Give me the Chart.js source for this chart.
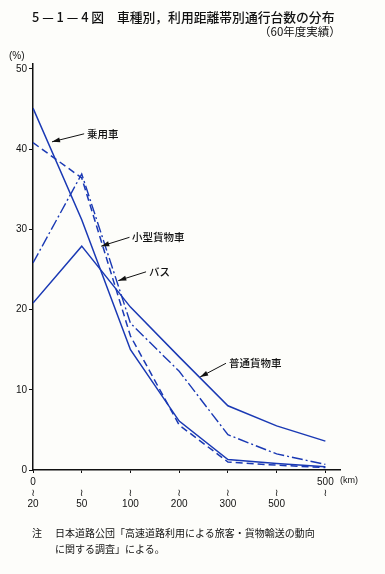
<!DOCTYPE html>
<html>
<head>
<meta charset="utf-8">
<script src="https://cdn.jsdelivr.net/npm/chart.js@4.4.1/dist/chart.umd.min.js"></script>
<style>
  body { margin: 0; background: #fdfdfa; width: 385px; height: 574px; position: relative; overflow: hidden;
         font-family: "Noto Sans CJK JP", "Noto Sans", sans-serif; color: #111; }
  #wrap { position: absolute; left: 0; top: 0; width: 385px; height: 574px; }
  .t { position: absolute; white-space: nowrap; }
</style>
</head>
<body>
<div id="wrap"><canvas id="lineChart" width="385" height="574"></canvas></div>
<div class="t" style="left:32px; top:7px; font-size:12.8px; font-weight:500;">5 — 1 — 4 図　車種別，利用距離帯別通行台数の分布</div>
<div class="t" style="left:259px; top:23px; font-size:11.5px;">（60年度実績）</div>
<div class="t" style="left:9px; top:50px; font-size:10px; font-family:'Liberation Sans',sans-serif;">(%)</div>
<div class="t" style="left:340px; top:475px; font-size:9px; font-family:'Liberation Sans',sans-serif;">(km)</div>
<div class="t" style="left:32px; top:525px; font-size:10px;">注</div>
<div class="t" style="left:55px; top:525px; font-size:10px;">日本道路公団「高速道路利用による旅客・貨物輸送の動向</div>
<div class="t" style="left:55px; top:541px; font-size:10px;">に関する調査」による。</div>
<script>
// distance bands (km)
const xTickLabels = [
    ["0", "≀", "20"],
    ["", "≀", "50"],
    ["", "≀", "100"],
    ["", "≀", "200"],
    ["", "≀", "300"],
    ["", "≀", "500"],
    ["500", "≀", ""]
];
const yTicks = [0, 10, 20, 30, 40, 50];

// share of traffic (%)
const jouyousha = [45.1, 31.2, 15.0, 6.1, 1.3, 0.8, 0.4];      // 乗用車
const kogataKamotsu = [40.8, 36.4, 16.7, 5.6, 1.0, 0.6, 0.3];  // 小型貨物車
const bus = [25.8, 36.9, 18.3, 12.3, 4.4, 2.0, 0.7];           // バス
const futsuKamotsu = [20.8, 27.9, 20.3, 14.1, 8.0, 5.5, 3.6];  // 普通貨物車

const blue = "#1a39b4";

function toPoints(arr) {
    return arr.map((v, i) => ({ x: i, y: v }));
}

// labels with arrows, given in data units
const notes = [
    { text: "乗用車", tip: [0.39, 40.9], tail: [1.05, 41.9], at: [1.09, 41.9] },
    { text: "小型貨物車", tip: [1.40, 27.9], tail: [1.98, 29.0], at: [2.01, 29.0] },
    { text: "バス", tip: [1.75, 23.6], tail: [2.32, 24.7], at: [2.36, 24.7] },
    { text: "普通貨物車", tip: [3.43, 11.6], tail: [3.96, 13.3], at: [4.0, 13.3] }
];

const notePlugin = {
    id: "notes",
    afterDatasetsDraw(chart) {
        const ctx = chart.ctx;
        const xs = chart.scales.x, ys = chart.scales.y;
        ctx.save();
        ctx.strokeStyle = "#111";
        ctx.fillStyle = "#111";
        ctx.lineWidth = 1;
        notes.forEach(n => {
            const tx = xs.getPixelForValue(n.tip[0]), ty = ys.getPixelForValue(n.tip[1]);
            const sx = xs.getPixelForValue(n.tail[0]), sy = ys.getPixelForValue(n.tail[1]);
            ctx.beginPath();
            ctx.moveTo(sx, sy);
            ctx.lineTo(tx, ty);
            ctx.stroke();
            const a = Math.atan2(ty - sy, tx - sx);
            ctx.beginPath();
            ctx.moveTo(tx, ty);
            ctx.lineTo(tx - 8 * Math.cos(a) + 2.5 * Math.sin(a), ty - 8 * Math.sin(a) - 2.5 * Math.cos(a));
            ctx.lineTo(tx - 8 * Math.cos(a) - 2.5 * Math.sin(a), ty - 8 * Math.sin(a) + 2.5 * Math.cos(a));
            ctx.closePath();
            ctx.fill();
            ctx.font = "500 10.5px 'Noto Sans CJK JP'";
            ctx.textBaseline = "middle";
            ctx.fillText(n.text, xs.getPixelForValue(n.at[0]) + 1, ys.getPixelForValue(n.at[1]));
        });
        ctx.restore();
    }
};

const ctxLine = document.getElementById("lineChart").getContext("2d");

new Chart(ctxLine, {
    type: "line",
    data: {
        datasets: [
            { label: "乗用車", data: toPoints(jouyousha), borderColor: blue, borderWidth: 1.5 },
            { label: "小型貨物車", data: toPoints(kogataKamotsu), borderColor: blue, borderWidth: 1.5, borderDash: [7, 4] },
            { label: "バス", data: toPoints(bus), borderColor: blue, borderWidth: 1.4, borderDash: [11, 3, 2, 3] },
            { label: "普通貨物車", data: toPoints(futsuKamotsu), borderColor: blue, borderWidth: 1.5 }
        ]
    },
    options: {
        responsive: false,
        animation: false,
        layout: { padding: { top: 64, left: 0, right: 45, bottom: 64 } },
        elements: { point: { radius: 0 }, line: { tension: 0, fill: false } },
        plugins: { legend: { display: false }, tooltip: { enabled: false } },
        scales: {
            x: {
                type: "linear",
                min: 0,
                max: 6.3,
                afterBuildTicks: s => { s.ticks = xTickLabels.map((l, i) => ({ value: i })); },
                afterFit: s => { s.height = 40; },
                border: { display: true, color: "#111", width: 1.5 },
                grid: { display: true, drawOnChartArea: false, drawTicks: true, tickLength: 3, color: "#111" },
                ticks: {
                    maxRotation: 0,
                    autoSkip: false,
                    padding: 4,
                    color: "#111",
                    font: { family: "'Liberation Sans', 'DejaVu Sans'", size: 10, lineHeight: 1.1 },
                    callback: (v, i) => xTickLabels[i]
                }
            },
            y: {
                min: 0,
                max: 50.6,
                afterBuildTicks: s => { s.ticks = yTicks.map(v => ({ value: v })); },
                afterFit: s => { s.width = 33; },
                border: { display: true, color: "#111", width: 1.5 },
                grid: { display: true, drawOnChartArea: false, drawTicks: true, tickLength: 4, color: "#111" },
                ticks: {
                    padding: 2,
                    color: "#111",
                    font: { family: "'Liberation Sans', 'DejaVu Sans'", size: 10 }
                }
            }
        }
    },
    plugins: [notePlugin]
});
</script>
</body>
</html>
